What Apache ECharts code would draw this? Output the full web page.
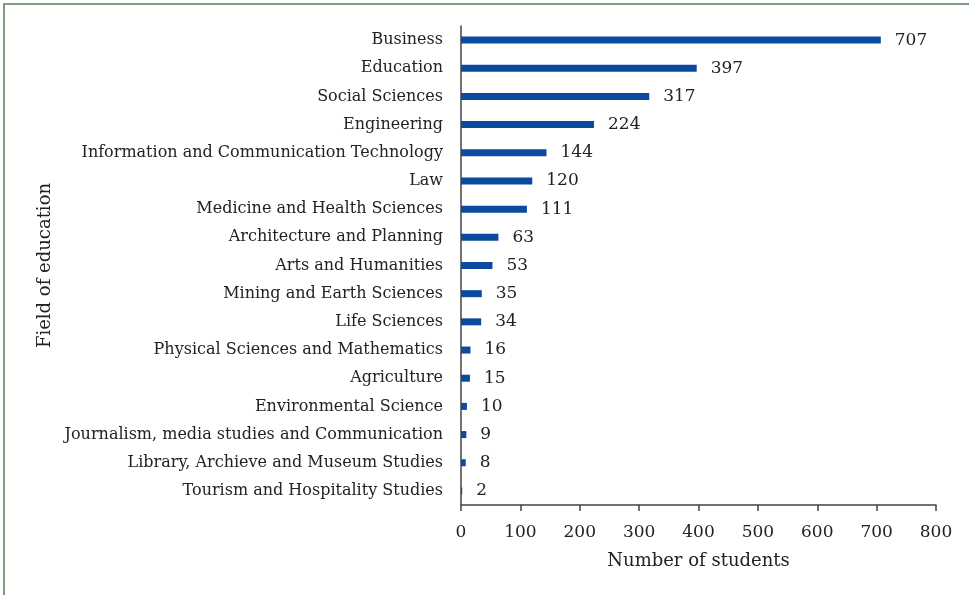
<!DOCTYPE html>
<html><head><meta charset="utf-8">
<script src="https://cdn.jsdelivr.net/npm/echarts@6/dist/echarts.min.js"></script>
<style>
html,body{margin:0;padding:0;background:#fff;}
#frame{position:absolute;left:3px;top:3px;width:966px;height:592px;border-left:2px solid #7d9e7d;border-top:2px solid #7d9e7d;box-sizing:border-box;}
#chart{position:absolute;left:0;top:0;width:969px;height:595px;}
</style></head>
<body>
<div id="frame"></div>
<div id="chart"></div>
<script>
const categories = ["Business","Education","Social Sciences","Engineering","Information and Communication Technology","Law","Medicine and Health Sciences","Architecture and Planning","Arts and Humanities","Mining and Earth Sciences","Life Sciences","Physical Sciences and Mathematics","Agriculture","Environmental Science","Journalism, media studies and Communication","Library, Archieve and Museum Studies","Tourism and Hospitality Studies"];
const students = [707,397,317,224,144,120,111,63,53,35,34,16,15,10,9,8,2];
const xTicks = {min:0,max:800,interval:100};

const font = "DejaVu Serif";
const chart = echarts.init(document.getElementById('chart'));
chart.setOption({
  animation:false,
  grid:{left:461,right:33,top:26,bottom:90,containLabel:false},
  xAxis:{type:'value',min:xTicks.min,max:xTicks.max,interval:xTicks.interval,
    name:'Number of students',nameLocation:'middle',nameGap:47,
    nameTextStyle:{fontFamily:font,fontSize:18,color:'#222'},
    axisLine:{show:true,lineStyle:{color:'#444',width:1.5}},
    axisTick:{show:true,length:6,lineStyle:{color:'#444',width:1.5}},
    axisLabel:{fontFamily:font,fontSize:17,color:'#222',margin:19},
    splitLine:{show:false}},
  yAxis:{type:'category',data:categories,inverse:true,
    name:'Field of education',nameLocation:'middle',nameGap:407,nameRotate:90,
    nameTextStyle:{fontFamily:font,fontSize:18,color:'#222'},
    axisLine:{show:true,lineStyle:{color:'#444',width:1.5}},
    axisTick:{show:false},
    axisLabel:{fontFamily:font,fontSize:16,color:'#222',margin:18}},
  series:[{type:'bar',data:students,barWidth:7,
    itemStyle:{color:'#0a4a9f'},
    label:{show:true,position:'right',distance:14,fontFamily:font,fontSize:17,color:'#222'}}]
});
</script>
</body></html>
